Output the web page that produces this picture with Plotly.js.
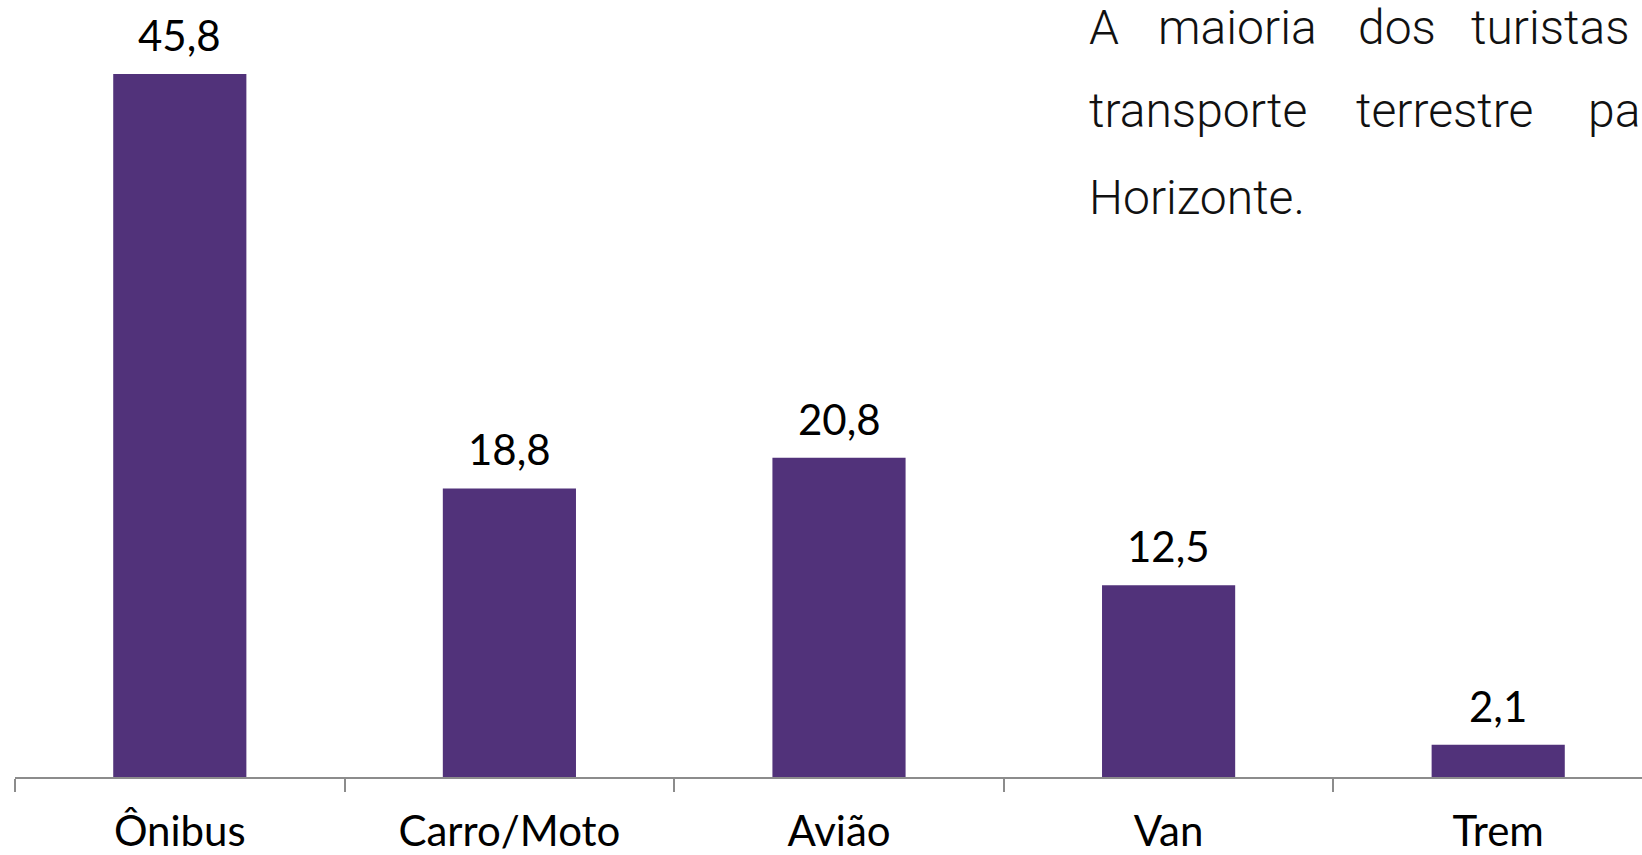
<!DOCTYPE html>
<html>
<head>
<meta charset="utf-8">
<script src="https://cdn.plot.ly/plotly-3.0.1.min.js"></script>
<style>
  html, body { margin: 0; padding: 0; background: #ffffff; }
  #chart { width: 1642px; height: 855px; }
</style>
</head>
<body>
<div id="chart"></div>
<script>
// ---- data ----
const categories = ["Ônibus", "Carro/Moto", "Avião", "Van", "Trem"];
const values = [45.8, 18.8, 20.8, 12.5, 2.1];
const valueLabels = ["45,8", "18,8", "20,8", "12,5", "2,1"];

// side text (justified lines, split into words; the block runs off the right edge)
const textLines = [
  ["A", "maioria", "dos", "turistas"],
  ["transporte", "terrestre", "para"],
  ["Horizonte."]
];

// ---- layout geometry ----
const W = 1642, H = 855;
const mL = 15, mR = 0, mT = 0, mB = 78;
const plotW = W - mL - mR, plotH = H - mT - mB;
const catW = 329.6;
const yMax = plotH / 15.35;

function px2x(px) { return (px - mL) / plotW; }
function px2y(py) { return 1 - (py - mT) / plotH; }

const wordX = [
  [1088, 1157, 1357, 1470],
  [1088, 1355, 1587],
  [1088]
];
const lineCenterY = [27, 111, 198];

const annotations = [];
values.forEach((v, i) => {
  annotations.push({
    x: categories[i], y: v, xref: "x", yref: "y",
    text: valueLabels[i], showarrow: false,
    xanchor: "center", yanchor: "bottom", yshift: 12,
    font: { family: "Lato, 'Noto Sans', sans-serif", size: 42, color: "#000000" }
  });
});
textLines.forEach((words, li) => {
  words.forEach((w, wi) => {
    annotations.push({
      x: px2x(wordX[li][wi]), y: px2y(lineCenterY[li]),
      xref: "paper", yref: "paper",
      text: w, showarrow: false, borderpad: 0,
      xanchor: "left", yanchor: "middle",
      font: { family: "Roboto, 'DejaVu Sans', sans-serif", size: 48, weight: 300, color: "#111111" }
    });
  });
});

const trace = {
  type: "bar",
  x: categories,
  y: values,
  marker: { color: "#51327a" },
  hoverinfo: "none"
};

const layout = {
  width: W, height: H,
  margin: { l: mL, r: mR, t: mT, b: mB, pad: 0 },
  paper_bgcolor: "#ffffff",
  plot_bgcolor: "#ffffff",
  showlegend: false,
  bargap: 0.596,
  xaxis: {
    type: "category",
    range: [-0.5, -0.5 + plotW / catW],
    showline: true, linecolor: "#8c8c8c", linewidth: 2,
    ticks: "outside", tickson: "boundaries", ticklen: 13, tickwidth: 2, tickcolor: "#8c8c8c",
    ticklabelstandoff: 17,
    showgrid: false, zeroline: false,
    tickfont: { family: "Lato, 'Noto Sans', sans-serif", size: 42, color: "#000000" },
    fixedrange: true
  },
  yaxis: {
    range: [0, yMax],
    visible: false, showgrid: false, zeroline: false, fixedrange: true
  },
  annotations: annotations
};

Plotly.newPlot("chart", [trace], layout, { displayModeBar: false, staticPlot: true });
</script>
</body>
</html>
